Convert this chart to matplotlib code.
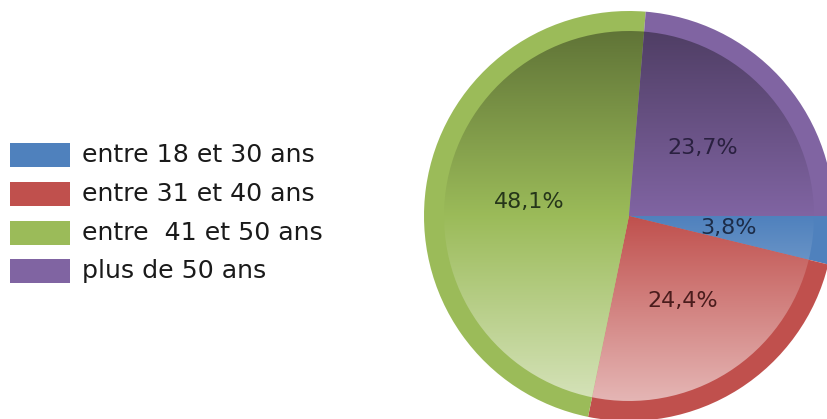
import numpy as np
import matplotlib
matplotlib.use("Agg")
import matplotlib.pyplot as plt
from matplotlib.colors import to_rgb
from matplotlib.patches import Rectangle

labels = ["entre 18 et 30 ans", "entre 31 et 40 ans", "entre  41 et 50 ans", "plus de 50 ans"]
values = [3.8, 24.4, 48.1, 23.7]
colors = ["#4f81bd", "#c0504d", "#9bbb59", "#8064a2"]
text_colors = ["#1c2c48", "#4a1c1c", "#26361a", "#2a2040"]

W, H = 828, 419
cx, cy, R = 629, H - 216, 205
r_in = 185

fig = plt.figure(figsize=(W / 100, H / 100), dpi=100)
fig.patch.set_facecolor("white")
ax = fig.add_axes([0, 0, 1, 1])

# outer rim in flat colours, with the percentage labels
wedges, _, autotexts = ax.pie(values, colors=colors, startangle=0, counterclock=False,
                              radius=R, center=(cx, cy), pctdistance=0.49,
                              autopct=lambda p: f"{p:.1f}%".replace(".", ","),
                              wedgeprops=dict(linewidth=0))

# inner part: vertical gradient, dark on top and light at the bottom
inner, _ = ax.pie(values, colors=["none"] * 4, startangle=0, counterclock=False,
                  radius=r_in, center=(cx, cy), wedgeprops=dict(linewidth=0))
n = 256
t = np.linspace(-1, 1, n)[:, None]  # -1 top, +1 bottom
for w, c in zip(inner, colors):
    base = np.array(to_rgb(c))
    dark = base * 0.62
    light = base + (1 - base) * 0.58
    col = np.where(t < 0, base + (base - dark) * t, base + (light - base) * t)
    img = np.clip(col, 0, 1)[:, None, :] * np.ones((1, 2, 1))
    im = ax.imshow(img, extent=(cx - r_in, cx + r_in, cy - r_in, cy + r_in),
                   origin="upper", aspect="auto", interpolation="bilinear", zorder=2)
    im.set_clip_path(w)

for txt, tc in zip(autotexts, text_colors):
    txt.set_color(tc)
    txt.set_fontsize(16)
    txt.set_zorder(5)

# legend on the left
ys = [155, 194, 233, 271]
for lab, c, y in zip(labels, colors, ys):
    ax.add_patch(Rectangle((10, H - y - 12), 60, 24, color=c, linewidth=0))
    ax.text(82, H - y, lab, fontsize=18.2, color="#1a1a1a", va="center", ha="left")

ax.set_xlim(0, W)
ax.set_ylim(0, H)
ax.axis("off")

fig.savefig("out.png", dpi=100)
